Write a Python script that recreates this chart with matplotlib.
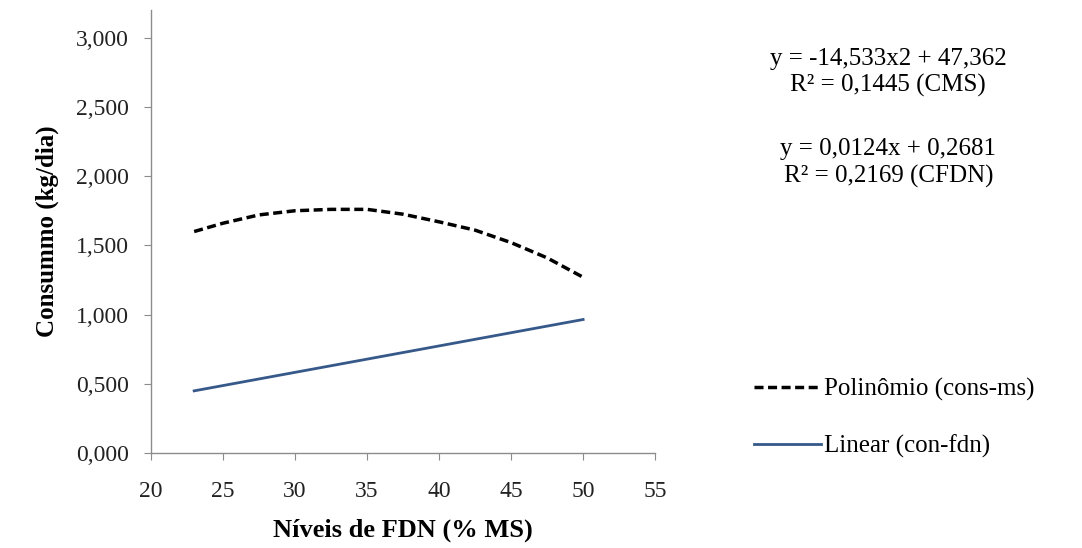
import matplotlib.pyplot as plt
from matplotlib.lines import Line2D
from matplotlib.ticker import FuncFormatter

plt.rcParams['font.family'] = ['Liberation Serif', 'DejaVu Serif']

# data
fdn_poly = [23, 25, 27.5, 30, 32.5, 35, 37.5, 40, 42.5, 45, 47.5, 50]
cons_ms = [1.60, 1.66, 1.72, 1.75, 1.76, 1.76, 1.725, 1.67, 1.61, 1.52, 1.41, 1.27]

fdn_lin = [23, 50]
cons_fdn = [0.45, 0.965]

x_ticks = [20, 25, 30, 35, 40, 45, 50, 55]
y_ticks = [0.0, 0.5, 1.0, 1.5, 2.0, 2.5, 3.0]

eq_cms = "y = -14,533x2 + 47,362\nR² = 0,1445 (CMS)"
eq_cfdn = "y = 0,0124x + 0,2681\nR² = 0,2169 (CFDN)"

DASH = (0, (2.6, 1.3))
BLUE = '#36598A'

fig = plt.figure(figsize=(10.82, 5.48), dpi=100)
ax = fig.add_axes([0.1395, 0.173, 0.466, 0.809])

ax.plot(fdn_poly, cons_ms, color='black', linestyle=DASH, linewidth=2.5)
ax.plot(fdn_lin, cons_fdn, color=BLUE, linewidth=2.0)

ax.set_xlim(20, 55)
ax.set_ylim(0, 3.2)
ax.set_xticks(x_ticks)
ax.set_yticks(y_ticks)
ax.yaxis.set_major_formatter(FuncFormatter(lambda v, p: f"{v:.3f}".replace('.', ',')))

for s in ['top', 'right']:
    ax.spines[s].set_visible(False)
for s in ['left', 'bottom']:
    ax.spines[s].set_color('#8c8c8c')
    ax.spines[s].set_linewidth(1.0)
ax.tick_params(axis='both', direction='out', length=5, color='#8c8c8c',
               labelsize=17, labelcolor='#222222')
ax.tick_params(axis='x', pad=15)
ax.tick_params(axis='y', pad=11)

ax.set_xlabel("Níveis de FDN (% MS)", fontsize=19, fontweight='bold', labelpad=12)
ax.set_ylabel("Consummo (kg/dia)", fontsize=18, fontweight='bold', labelpad=12)

fig.text(0.821, 0.868, eq_cms, ha='center', va='center', fontsize=18, linespacing=1.25)
fig.text(0.821, 0.703, eq_cfdn, ha='center', va='center', fontsize=18, linespacing=1.25)

handles = [
    Line2D([], [], color='black', linestyle=DASH, linewidth=2.5),
    Line2D([], [], color=BLUE, linewidth=2.0),
]
fig.legend(handles, ["Polinômio (cons-ms)", "Linear (con-fdn)"],
           loc='center left', bbox_to_anchor=(0.676, 0.237), frameon=False,
           fontsize=18, handlelength=2.7, handletextpad=0.12, labelspacing=1.33)

fig.savefig("out.png", dpi=100)
